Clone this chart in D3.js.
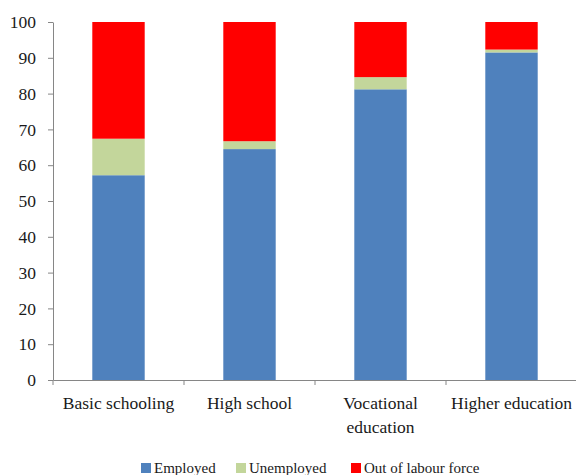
<!DOCTYPE html>
<html><head><meta charset="utf-8">
<script src="https://cdn.jsdelivr.net/npm/d3@7"></script>
<style>body{margin:0;background:#fff}svg{display:block}svg text{font-family:"Liberation Serif","DejaVu Serif",serif !important}</style>
</head><body>
<svg id="c" width="576" height="475"></svg>
<script>
const categories = ["Basic schooling", "High school", "Vocational education", "Higher education"];
const categoryLines = [["Basic schooling"], ["High school"], ["Vocational", "education"], ["Higher education"]];
const seriesNames = ["Employed", "Unemployed", "Out of labour force"];
const employed = [57.2, 64.5, 81.2, 91.5];
const unemployed = [10.2, 2.2, 3.4, 0.8];
const outOfLabour = [32.6, 33.3, 15.4, 7.7];
const yTicks = [0, 10, 20, 30, 40, 50, 60, 70, 80, 90, 100];
const colors = ["#4F81BD", "#C3D69B", "#FF0000"];

const svg = d3.select("#c");
const font = "Liberation Serif";
const x = d3.scaleBand().domain(categories).range([53, 577]).padding(0);
const y = d3.scaleLinear().domain([0, 100]).range([380, 22]);

const rows = categories.map((c, i) => ({cat: c, Employed: employed[i], Unemployed: unemployed[i], "Out of labour force": outOfLabour[i]}));
const stack = d3.stack().keys(seriesNames)(rows);
const barW = x.bandwidth() * 0.4;

svg.append("g").selectAll("g").data(stack).join("g")
  .attr("fill", (d, i) => colors[i])
  .selectAll("rect").data(d => d).join("rect")
  .attr("x", d => x(d.data.cat) + (x.bandwidth() - barW) / 2)
  .attr("width", barW)
  .attr("y", d => y(d[1]))
  .attr("height", d => y(d[0]) - y(d[1]));

// Y axis
const yAx = svg.append("g").attr("transform", "translate(53,0)")
  .call(d3.axisLeft(y).tickValues(yTicks).tickSize(5).tickPadding(12).tickSizeOuter(0));
yAx.attr("font-family", null).attr("font-size", null);
yAx.select(".domain").attr("stroke", "#868686");
yAx.selectAll(".tick line").attr("stroke", "#868686");
yAx.selectAll("text").style("font-family", font).style("font-size", "17.5px").attr("fill", "#1a1a1a");

// X axis
const xAx = svg.append("g").attr("transform", "translate(0,380)")
  .call(d3.axisBottom(x).tickSize(0).tickFormat(""));
xAx.select(".domain").attr("stroke", "#868686");
xAx.selectAll(".tick").remove();
const bounds = categories.map(c => x(c)).concat([x.range()[1]]);
xAx.selectAll("line.b").data(bounds).join("line")
  .attr("x1", d => d).attr("x2", d => d).attr("y1", 0).attr("y2", 5)
  .attr("stroke", "#868686");

const labels = svg.append("g");
categories.forEach((c, i) => {
  const t = labels.append("text")
    .attr("x", x(c) + x.bandwidth() / 2).attr("y", 409)
    .attr("text-anchor", "middle")
    .style("font-family", font).style("font-size", "17.5px").attr("fill", "#1a1a1a");
  categoryLines[i].forEach((ln, j) => {
    t.append("tspan").attr("x", x(c) + x.bandwidth() / 2).attr("dy", j === 0 ? 0 : 24).text(ln);
  });
});

// Legend
const legX = [141, 236, 351];
const leg = svg.append("g");
seriesNames.forEach((s, i) => {
  leg.append("rect").attr("x", legX[i]).attr("y", 463).attr("width", 10).attr("height", 10).attr("fill", colors[i]);
  leg.append("text").attr("x", legX[i] + 13).attr("y", 473)
    .style("font-family", font).style("font-size", "15px").attr("fill", "#1a1a1a").text(s);
});
</script>
</body></html>
